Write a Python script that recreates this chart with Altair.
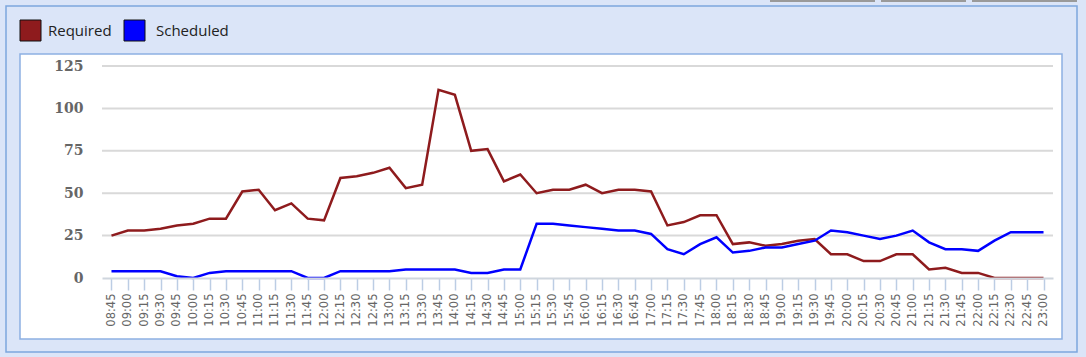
import altair as alt
import pandas as pd

times = ["08:45", "09:00", "09:15", "09:30", "09:45", "10:00", "10:15", "10:30",
         "10:45", "11:00", "11:15", "11:30", "11:45", "12:00", "12:15", "12:30",
         "12:45", "13:00", "13:15", "13:30", "13:45", "14:00", "14:15", "14:30",
         "14:45", "15:00", "15:15", "15:30", "15:45", "16:00", "16:15", "16:30",
         "16:45", "17:00", "17:15", "17:30", "17:45", "18:00", "18:15", "18:30",
         "18:45", "19:00", "19:15", "19:30", "19:45", "20:00", "20:15", "20:30",
         "20:45", "21:00", "21:15", "21:30", "21:45", "22:00", "22:15", "22:30",
         "22:45", "23:00"]

required = [25, 28, 28, 29, 31, 32, 35, 35, 51, 52, 40, 44, 35, 34, 59, 60,
            62, 65, 53, 55, 111, 108, 75, 76, 57, 61, 50, 52, 52, 55, 50, 52,
            52, 51, 31, 33, 37, 37, 20, 21, 19, 20, 22, 23, 14, 14, 10, 10,
            14, 14, 5, 6, 3, 3, 0, 0, 0, 0]

scheduled = [4, 4, 4, 4, 1, 0, 3, 4, 4, 4, 4, 4, 0, 0, 4, 4,
             4, 4, 5, 5, 5, 5, 3, 3, 5, 5, 32, 32, 31, 30, 29, 28,
             28, 26, 17, 14, 20, 24, 15, 16, 18, 18, 20, 22, 28, 27, 25, 23,
             25, 28, 21, 17, 17, 16, 22, 27, 27, 27]

series_names = ["Required", "Scheduled"]
series_colors = ["#8e1b1d", "#0000ff"]
y_ticks = [0, 25, 50, 75, 100, 125]

df = pd.DataFrame({
    "time": times * 2,
    "value": required + scheduled,
    "series": ["Required"] * len(times) + ["Scheduled"] * len(times),
})
grid_df = pd.DataFrame({"tick": y_ticks[1:]})

one = pd.DataFrame({"a": [0]})
BG = "#dbe5f8"

yscale = alt.Scale(domain=[0, 125], nice=False)

outer = alt.Chart(one).mark_rect(fill=BG, stroke="#7ea6dd", strokeWidth=1.5).encode(
    x=alt.value(-96), x2=alt.value(975), y=alt.value(-60), y2=alt.value(286))
inner = alt.Chart(one).mark_rect(fill="white", stroke="#8db0e2", strokeWidth=1.5).encode(
    x=alt.value(-82), x2=alt.value(960), y=alt.value(-12), y2=alt.value(273))
tab1 = alt.Chart(one).mark_rect(fill="#9a9a9a").encode(
    x=alt.value(668), x2=alt.value(773), y=alt.value(-66), y2=alt.value(-64))
tab2 = alt.Chart(one).mark_rect(fill="#9a9a9a").encode(
    x=alt.value(779), x2=alt.value(864), y=alt.value(-66), y2=alt.value(-64))
tab3 = alt.Chart(one).mark_rect(fill="#9a9a9a").encode(
    x=alt.value(870), x2=alt.value(975), y=alt.value(-66), y2=alt.value(-64))

grid = alt.Chart(grid_df).mark_rule(color="#d9d9d9", strokeWidth=2).encode(
    y=alt.Y("tick:Q", scale=yscale), x=alt.value(0), x2=alt.value(951))

lines = alt.Chart(df).mark_line(strokeWidth=2.5).encode(
    x=alt.X("time:O", sort=times, title=None,
            scale=alt.Scale(type="point", padding=0.58),
            axis=alt.Axis(labelAngle=270, labelFont="DejaVu Sans", labelFontSize=11.5,
                          labelColor="#666666", labelPadding=3, tickSize=12,
                          tickColor="#bccde4", tickWidth=1.5, domainColor="#cfd6de",
                          domainWidth=2, grid=False, zindex=1)),
    y=alt.Y("value:Q", title=None, scale=yscale,
            axis=alt.Axis(values=y_ticks, labelFont="DejaVu Serif", labelFontWeight="bold",
                          labelFontSize=14, labelColor="#666666", labelPadding=19,
                          domain=False, ticks=False, grid=False, zindex=1)),
    color=alt.Color("series:N", scale=alt.Scale(domain=series_names, range=series_colors),
                    legend=None),
)

sq1 = alt.Chart(one).mark_rect(fill=series_colors[0], stroke="#111111", strokeWidth=1).encode(
    x=alt.value(-82), x2=alt.value(-61), y=alt.value(-46), y2=alt.value(-25))
sq2 = alt.Chart(one).mark_rect(fill=series_colors[1], stroke="#111111", strokeWidth=1).encode(
    x=alt.value(22), x2=alt.value(43), y=alt.value(-46), y2=alt.value(-25))
t1 = alt.Chart(one).mark_text(text=series_names[0], font="Open Sans", fontSize=15,
                              color="#222222", align="left", baseline="middle").encode(
    x=alt.value(-54), y=alt.value(-35))
t2 = alt.Chart(one).mark_text(text=series_names[1], font="Open Sans", fontSize=15,
                              color="#222222", align="left", baseline="middle").encode(
    x=alt.value(54), y=alt.value(-35))

chart = alt.layer(outer, inner, tab1, tab2, tab3, grid, lines, sq1, sq2, t1, t2).properties(
    width=951, height=212,
    autosize=alt.AutoSizeParams(type="none"),
    padding={"left": 102, "top": 66, "right": 33, "bottom": 79},
    background=BG,
).configure_view(stroke=None)

chart.save("out.html", embed_options={"renderer": "svg", "actions": False})
